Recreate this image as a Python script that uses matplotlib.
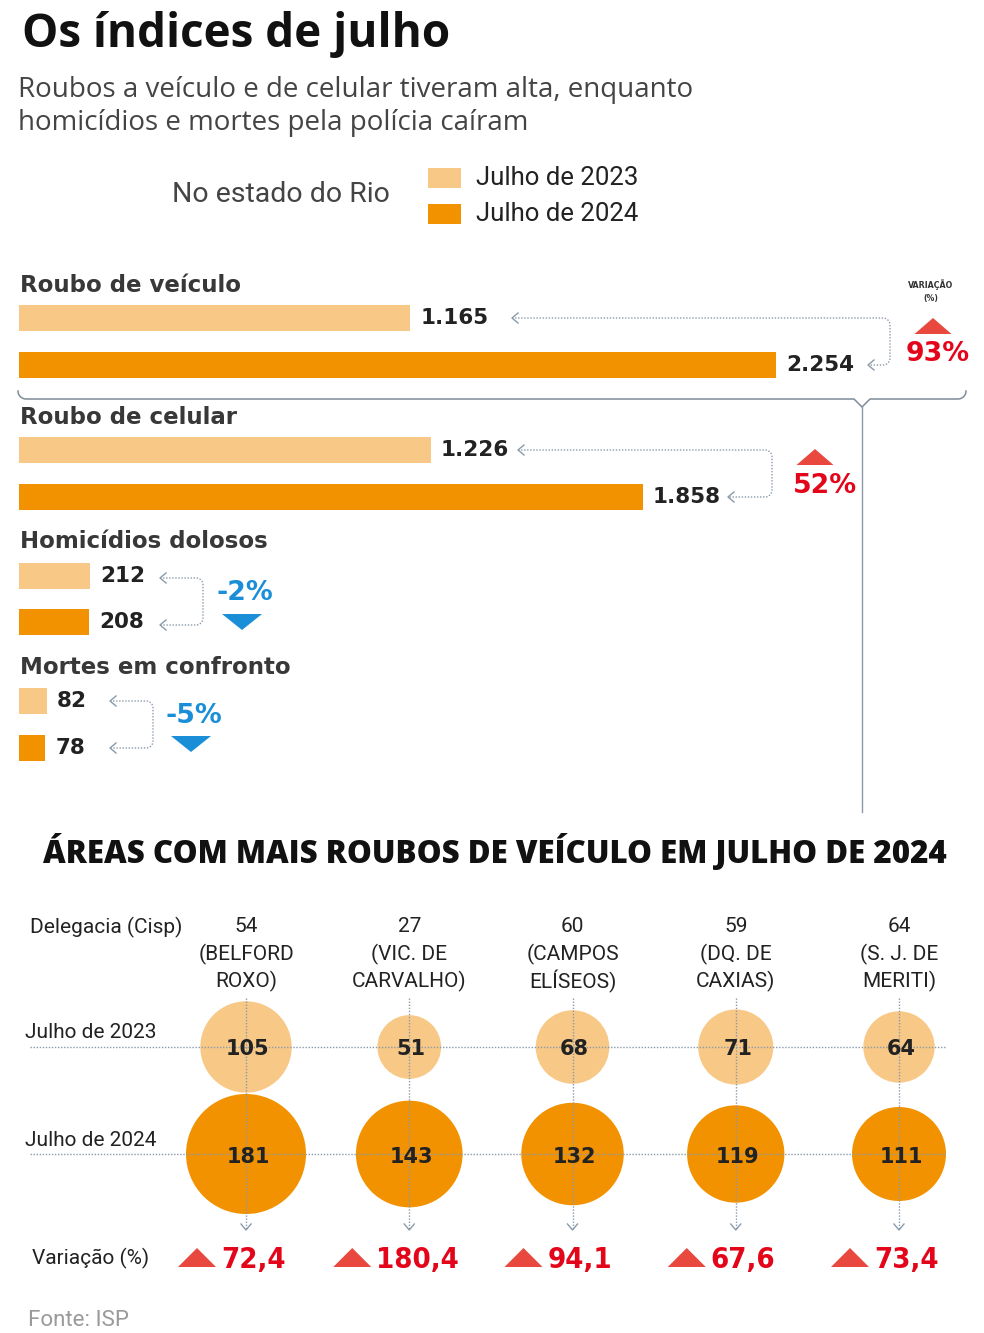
import numpy as np
import matplotlib
matplotlib.use("Agg")
import matplotlib.pyplot as plt
from matplotlib.patches import Polygon
from matplotlib import font_manager as fm

# ---------------- data ----------------
categories = ["Roubo de veículo", "Roubo de celular", "Homicídios dolosos", "Mortes em confronto"]
val_2023 = [1165, 1226, 212, 82]
val_2024 = [2254, 1858, 208, 78]
var_pct = [93, 52, -2, -5]
legend_labels = ["Julho de 2023", "Julho de 2024"]

cisp_codes = ["54", "27", "60", "59", "64"]
cisp_names = [("(BELFORD", "ROXO)"), ("(VIC. DE", "CARVALHO)"), ("(CAMPOS", "ELÍSEOS)"),
              ("(DQ. DE", "CAXIAS)"), ("(S. J. DE", "MERITI)")]
bub_2023 = [105, 51, 68, 71, 64]
bub_2024 = [181, 143, 132, 119, 111]
bub_var = ["72,4", "180,4", "94,1", "67,6", "73,4"]

# ---------------- fonts ----------------
_fl = fm.fontManager.ttflist
_has_dv_cond = any(f.name == "DejaVu Sans" and str(f.stretch) in ("condensed", "semi-condensed", "75", "87")
                   for f in _fl)
_names = {f.name for f in _fl}
if _has_dv_cond:
    COND = dict(family="DejaVu Sans", fontstretch="condensed")
elif "Liberation Sans Narrow" in _names:
    COND = dict(family="Liberation Sans Narrow")
else:
    COND = dict(family="Roboto")

# ---------------- style ----------------
C_LIGHT = "#f8c886"
C_DARK = "#f29200"
C_RED = "#e3061a"
C_REDTRI = "#e8483e"
C_BLUE = "#1a8fd8"
C_GRID = "#8a9aab"
C_TXT = "#222222"
C_SUB = "#444444"

W, H = 984, 1333
fig = plt.figure(figsize=(W / 100, H / 100), dpi=100)
fig.patch.set_facecolor("white")

# overlay axes in pixel coordinates
ax = fig.add_axes([0, 0, 1, 1])
ax.set_xlim(0, W)
ax.set_ylim(H, 0)
ax.axis("off")

# bar axes: value units on x, pixel units on y
BAR_LEFT = 19
PX_PER_UNIT = (776 - 19) / 2254.0
axb = fig.add_axes([BAR_LEFT / W, 0, (W - BAR_LEFT) / W, 1])
axb.set_xlim(0, (W - BAR_LEFT) / PX_PER_UNIT)
axb.set_ylim(H, 0)
axb.axis("off")
axb.patch.set_alpha(0)

def fmt(v):
    return f"{v:,}".replace(",", ".")

# ---------- title ----------
ax.text(22, 35, "Os índices de julho", fontsize=33, fontweight="bold",
        family="Open Sans", color="#111111", va="center", ha="left")
ax.text(18, 90, "Roubos a veículo e de celular tiveram alta, enquanto",
        fontsize=20, family="Open Sans", color=C_SUB, va="center")
ax.text(18, 123, "homicídios e mortes pela polícia caíram",
        fontsize=20, family="Open Sans", color=C_SUB, va="center")

# legend
ax.text(390, 195, "No estado do Rio", fontsize=20.5, family="Roboto", color=C_SUB,
        ha="right", va="center")
for i, (lab, col) in enumerate(zip(legend_labels, [C_LIGHT, C_DARK])):
    yc = 178 + 36 * i
    ax.add_patch(plt.Rectangle((428, yc - 10), 33, 20, color=col, lw=0))
    ax.text(476, yc, lab, fontsize=18.5, family="Roboto", color=C_TXT, va="center")

# ---------- bars ----------
title_y = [285, 417, 542, 667]
y23 = [318, 450, 576, 701]
y24 = [365, 497, 622, 748]
bar_h = 25.5

axb.barh(y23, val_2023, height=bar_h, color=C_LIGHT, left=0)
axb.barh(y24, val_2024, height=bar_h, color=C_DARK, left=0)

for k, cat in enumerate(categories):
    ax.text(20, title_y[k], cat, fontsize=16.5, family="DejaVu Sans", fontweight="bold",
            color="#383838", va="center")

for k in range(4):
    for v, yy in ((val_2023[k], y23[k]), (val_2024[k], y24[k])):
        axb.annotate(fmt(v), xy=(v, yy), xytext=(10, 0), textcoords="offset pixels",
                     fontsize=15.5, family="DejaVu Sans", fontweight="bold",
                     color=C_TXT, va="center", ha="left")

# connector brackets (dotted, rounded corners) with chevrons
def bracket(xv, ya, yb, xa, xb, r=7):
    t = np.linspace(0, np.pi / 2, 12)
    xs = [xa, xv - r]
    ys = [ya, ya]
    xs += list(xv - r + r * np.sin(t)); ys += list(ya + r - r * np.cos(t))
    xs += [xv, xv]; ys += [ya + r, yb - r]
    xs += list(xv - r + r * np.cos(t)); ys += list(yb - r + r * np.sin(t))
    xs += [xb]; ys += [yb]
    ax.plot(xs, ys, color=C_GRID, lw=1.0, ls=(0, (1, 1.2)))
    for (x0, y0) in ((xa, ya), (xb, yb)):
        ax.plot([x0 + 6, x0, x0 + 6], [y0 - 5, y0, y0 + 5], color=C_GRID, lw=1.0)

bracket(890, y23[0], y24[0], 512, 868)
bracket(772, y23[1], y24[1], 518, 728)
bracket(203, y23[2] + 2, y24[2] + 3, 160, 160)
bracket(153, y23[3], y24[3], 110, 110)

def tri(xc, y_top, w, h, up, color):
    if up:
        pts = [(xc - w / 2, y_top + h), (xc + w / 2, y_top + h), (xc, y_top)]
    else:
        pts = [(xc - w / 2, y_top), (xc + w / 2, y_top), (xc, y_top + h)]
    ax.add_patch(Polygon(pts, closed=True, color=color, lw=0))

# variation markers
ax.text(931, 285, "VARIAÇÃO", fontsize=6.3, fontweight="bold", color="#333333",
        ha="center", va="center", **COND)
ax.text(931, 298, "(%)", fontsize=6.3, fontweight="bold", color="#333333",
        ha="center", va="center", **COND)
var_tri = [(933, 318), (815, 449), (242, 614), (191, 736)]
var_txt = [(938, 354), (825, 486), (245, 593), (194, 716)]
for k in range(4):
    up = var_pct[k] > 0
    col_t = C_REDTRI if up else C_BLUE
    col_x = C_RED if up else C_BLUE
    tri(var_tri[k][0], var_tri[k][1], 37 if up else 40, 16, up, col_t)
    ax.text(var_txt[k][0], var_txt[k][1], f"{var_pct[k]}%", fontsize=19.3,
            fontweight="bold", family="DejaVu Sans", color=col_x, ha="center", va="center")

# curly brace under first group + vertical connector
left_t = np.linspace(0, np.pi / 2, 10)
xs = list(18 + 8 * (1 - np.cos(left_t))) + [854, 862, 870] + list(966 - 8 * (1 - np.cos(left_t[::-1])))
ys = list(391 + 8 * np.sin(left_t)) + [399, 407, 399] + list(391 + 8 * np.sin(left_t[::-1]))
ax.plot(xs, ys, color="#7f8c99", lw=1.1)
ax.plot([862, 862], [407, 812], color="#8d99a6", lw=1.0)

# ---------- bubble chart ----------
ax.text(495, 853, "ÁREAS COM MAIS ROUBOS DE VEÍCULO EM JULHO DE 2024", fontsize=22.5,
        fontweight="heavy", family="Open Sans", color="#111111", ha="center", va="center")

col_x0, col_dx = 246, 163.25
cols = [col_x0 + i * col_dx for i in range(len(cisp_codes))]
row23, row24 = 1047, 1154
LBL = dict(family="Roboto", color=C_TXT, va="center")

ax.text(30, 927, "Delegacia (Cisp)", fontsize=15, **LBL)
ax.text(25, 1032, "Julho de 2023", fontsize=15, **LBL)
ax.text(25, 1140, "Julho de 2024", fontsize=15, **LBL)
ax.text(32, 1258, "Variação (%)", fontsize=15, **LBL)

for i, xc in enumerate(cols):
    ax.text(xc, 927, cisp_codes[i], fontsize=15, ha="center", **LBL)
    ax.text(xc, 954, cisp_names[i][0], fontsize=15, ha="center", **LBL)
    ax.text(xc, 981, cisp_names[i][1], fontsize=15, ha="center", **LBL)

# bubbles: area proportional to value
K = (120 * 0.72) ** 2 / 181.0
ax.scatter(cols, [row23] * len(cols), s=np.array(bub_2023) * K, color=C_LIGHT, lw=0, zorder=2)
ax.scatter(cols, [row24] * len(cols), s=np.array(bub_2024) * K, color=C_DARK, lw=0, zorder=2)

# dotted grid over bubbles
for yy in (row23, row24):
    ax.plot([30, 945], [yy, yy], color=C_GRID, lw=1.0, ls=(0, (1, 1.2)), zorder=3)
for xc in cols:
    ax.plot([xc, xc], [998, 1230], color=C_GRID, lw=1.0, ls=(0, (1, 1.2)), zorder=3)
    ax.plot([xc - 5, xc, xc + 5], [1224, 1230, 1224], color=C_GRID, lw=1.0, zorder=3)

for i, xc in enumerate(cols):
    ax.text(xc + 2, row23 + 2, str(bub_2023[i]), fontsize=15, fontweight="bold",
            family="DejaVu Sans", color=C_TXT, ha="center", va="center", zorder=4)
    ax.text(xc + 2, row24 + 3, str(bub_2024[i]), fontsize=15, fontweight="bold",
            family="DejaVu Sans", color=C_TXT, ha="center", va="center", zorder=4)

# variation row
for i, xc in enumerate(cols):
    extra = 8 * (len(bub_var[i]) - 4)
    xt = xc - 25 - extra
    tri(xt - 24, 1248, 38, 19, True, C_REDTRI)
    ax.text(xt, 1260, bub_var[i], fontsize=21, fontweight="bold",
            color=C_RED, ha="left", va="center", **COND)

ax.text(28, 1320, "Fonte: ISP", fontsize=16, family="Roboto", color="#9a9a9a", va="center")

fig.savefig("out.png", dpi=100, facecolor="white")
